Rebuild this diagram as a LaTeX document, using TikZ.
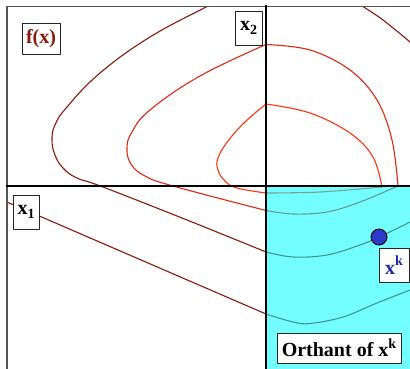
\documentclass[tikz,border=0pt]{standalone}
\usepackage{fontspec}
\setmainfont{Liberation Serif}
\newcommand\lblsup[1]{\raisebox{0.42em}{\fontsize{14}{14}\selectfont #1}}
\newcommand\lblsub[1]{\raisebox{-0.22em}{\fontsize{14}{14}\selectfont #1}}
\begin{document}
\begin{tikzpicture}[x=1pt,y=-1pt,line join=round,line cap=round]
\definecolor{dred}{RGB}{140,26,10}
\definecolor{mred}{RGB}{222,42,16}
\definecolor{bred}{RGB}{255,52,16}
\definecolor{framegray}{RGB}{85,85,85}
\definecolor{dotblue}{RGB}{45,60,200}
\definecolor{lblue}{RGB}{30,40,170}
\definecolor{lred}{RGB}{140,26,10}
\definecolor{orthcyan}{RGB}{0,255,255}
\tikzset{
  contour/.style={line width=1.1pt},
  lbl/.style={draw=black!85, fill=white, line width=0.8pt, inner sep=0pt,
    font=\fontsize{20}{20}\selectfont\bfseries},
  axisline/.style={line width=2.2pt, black, line cap=rect},
  framel/.style={line width=1.8pt, framegray, line cap=rect}
}
\useasboundingbox (0,0) rectangle (410,369);
\fill[white] (0,0) rectangle (410,369);
\begin{scope}
\clip (7,6.5) rectangle (410,369);
% outer contour (left part)
\draw[contour, dred] plot[smooth, tension=0.7] coordinates {(226,-4) (207,6.5) (150,37) (100,73) (67,107) (55,125) (52,140) (55,155) (63,168) (77,178) (103,187) (187,220) (266,252)};
\draw[contour, dred] plot[smooth, tension=0.6] coordinates {(266,252) (293,257) (327,255) (360,245) (379,237) (410,222) (430,211)};
\draw[contour, dred] plot[smooth, tension=0.6] coordinates {(354,0) (363,6.5) (383,20) (410,42) (424,55)};
% middle contour
\draw[contour, mred] plot[smooth, tension=0.7] coordinates {(266,44.5) (200,76) (150,110) (132,132) (127,148) (131,164) (145,176) (173,186) (266,210.5)};
\draw[contour, mred] plot[smooth, tension=0.6] coordinates {(266,44.5) (310,50) (350,70) (377,100) (392,140) (398,186)};
\draw[contour, mred] plot[smooth, tension=0.6] coordinates {(266,210.5) (293,214) (327,212) (360,202) (398,186)};
% inner contour
\draw[contour, bred] plot[smooth, tension=0.7] coordinates {(266,104) (245,122) (228,141) (218,158) (218,170) (225,181) (237,188) (266,193)};
\draw[contour, bred] plot[smooth, tension=0.6] coordinates {(266,104) (310,113) (350,133) (373,157) (382,187)};
\draw[contour, bred] plot[smooth, tension=0.6] coordinates {(266,193) (320,192) (382,187)};
% outermost contour
\draw[contour, dred] (0,199) -- (266,314);
\draw[contour, dred] plot[smooth, tension=0.6] coordinates {(266,314) (293,322) (310,323.5) (343,317) (377,303) (410,290) (425,284)};
% orthant
\fill[orthcyan, opacity=0.55] (266,186) rectangle (410,369);
\end{scope}
% frame and axes
\draw[framel] (7,369) -- (7,6.5) -- (410,6.5);
\draw[axisline] (7,186) -- (410,186);
\draw[axisline] (266,6.5) -- (266,369);
% point
\node[circle, fill=dotblue, draw=black, line width=0.9pt, minimum size=16pt, inner sep=0pt] (xk) at (379,237) {};
% labels
\node[lbl, text=lred, minimum width=38pt, minimum height=31pt] (fx) at (41,38.5) {f(x)};
\node[lbl, minimum width=27pt, minimum height=34pt] (x2) at (248.5,28) {x\lblsub{2}};
\node[lbl, minimum width=26pt, minimum height=34pt] (x1) at (26,212) {x\lblsub{1}};
\node[lbl, text=lblue, minimum width=30pt, minimum height=34pt] (xkl) at (394,265) {x\lblsup{k}};
\node[lbl, minimum width=124pt, minimum height=30pt] (orth) at (339,348) {Orthant of x\lblsup{k}};
\end{tikzpicture}
\end{document}
